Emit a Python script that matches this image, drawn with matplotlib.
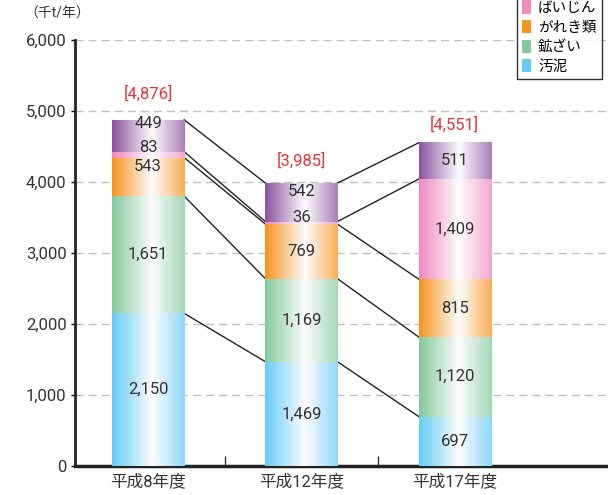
import numpy as np
import matplotlib.pyplot as plt
from matplotlib.colors import to_rgb
from matplotlib.patches import Patch

plt.rcParams['font.family'] = ['Roboto', 'Noto Sans CJK JP', 'DejaVu Sans']

# data
years = ["平成8年度", "平成12年度", "平成17年度"]
series = ["汚泥", "鉱ざい", "がれき類", "ばいじん", "その他"]
sludge = [2150, 1469, 697]
slag = [1651, 1169, 1120]
debris = [543, 769, 815]
dust = [83, 36, 1409]
other = [449, 542, 511]
total_labels = ["[4,876]", "[3,985]", "[4,551]"]

colors = ["#66ccf5", "#84ca9c", "#f7931e", "#f08abf", "#8c52a0"]

# label placement tweaks for small segments (data units)
label_y = {(0, 2): 4225, (0, 3): 4480, (0, 4): 4830,
           (1, 3): 3495, (1, 4): 3870}
total_offset = [19, 16, 13]

values = np.array([sludge, slag, debris, dust, other])
bottoms = np.vstack([np.zeros(3), np.cumsum(values, axis=0)[:-1]])
tops = np.cumsum(values, axis=0)

fig = plt.figure(figsize=(6.08, 4.95), dpi=100)
ax = fig.add_axes([75 / 608, 29 / 495, 533 / 608, 426 / 495])

x = np.arange(len(years))
w = 0.47


def gradient(c):
    c = np.array(to_rgb(c))
    white = np.ones(3)
    t = np.linspace(0, 1, 200)
    right = c * 0.75 + white * 0.25
    out = np.zeros((1, len(t), 3))
    for k in range(3):
        out[0, :, k] = np.interp(t, [0, 0.55, 1], [c[k], 0.99, right[k]])
    return out


for s in range(len(series)):
    bars = ax.bar(x, values[s], w, bottom=bottoms[s], color=colors[s],
                  zorder=2, linewidth=0)
    img = gradient(colors[s])
    for i, b in enumerate(bars):
        bb = b.get_bbox()
        ax.imshow(img, extent=[bb.x0, bb.x1, bb.y0, bb.y1], aspect='auto',
                  zorder=3, interpolation='bilinear')
        yy = label_y.get((i, s), bottoms[s][i] + values[s][i] / 2)
        ax.text(x[i], yy, f"{values[s][i]:,}", ha='center', va='center',
                fontsize=12, color="#333333", zorder=5)

# connector lines
for i in range(len(years) - 1):
    for s in range(len(series)):
        ax.plot([x[i] + w / 2, x[i + 1] - w / 2], [tops[s][i], tops[s][i + 1]],
                color="#222222", lw=1, zorder=1)

for i in range(len(years)):
    ax.annotate(total_labels[i], (x[i], tops[-1][i]), xytext=(0, total_offset[i]),
                textcoords='offset points', ha='center', va='center',
                fontsize=12, color="#e8333c")

ax.set_xlim(-0.477, 3.0)
ax.set_ylim(0, 6000)
ax.set_yticks(np.arange(0, 6001, 1000))
ax.set_yticklabels([f"{v:,}" for v in range(0, 6001, 1000)])
ax.set_xticks(x)
ax.set_xticklabels(years)
ax.set_xticks([0.5, 1.5], minor=True)
ax.tick_params(axis='x', which='major', length=0, pad=5, labelsize=12,
               labelcolor="#333333")
ax.tick_params(axis='x', which='minor', direction='in', length=7, width=1,
               color="#333333")
ax.tick_params(axis='y', length=3, width=1, pad=3, labelsize=12,
               labelcolor="#333333")

ax.yaxis.grid(True, color="#c0c0c0", lw=1, linestyle=(0, (5.8, 3.6)))
ax.set_axisbelow(True)
for sp in ["top", "right"]:
    ax.spines[sp].set_visible(False)
ax.spines["left"].set_linewidth(2)
ax.spines["bottom"].set_linewidth(2.5)
ax.spines["left"].set_color("#222222")
ax.spines["bottom"].set_color("#222222")

fig.text(24 / 608, 1 - 14 / 495, "（千t/年）", fontsize=10, va='center',
         color="#333333")

handles = [Patch(facecolor=colors[s], edgecolor='none', label=series[s])
           for s in range(len(series))][::-1]
leg = fig.legend(handles=handles, loc='lower left',
                 bbox_to_anchor=(517 / 608, 1 - 79 / 495), fontsize=10.5,
                 frameon=True, fancybox=False, handlelength=0.6,
                 handleheight=1.0, borderpad=0.35, labelspacing=0.35,
                 handletextpad=0.5, borderaxespad=0)
leg.get_frame().set_edgecolor("black")
leg.get_frame().set_linewidth(1)

plt.savefig("out.png", dpi=100)
